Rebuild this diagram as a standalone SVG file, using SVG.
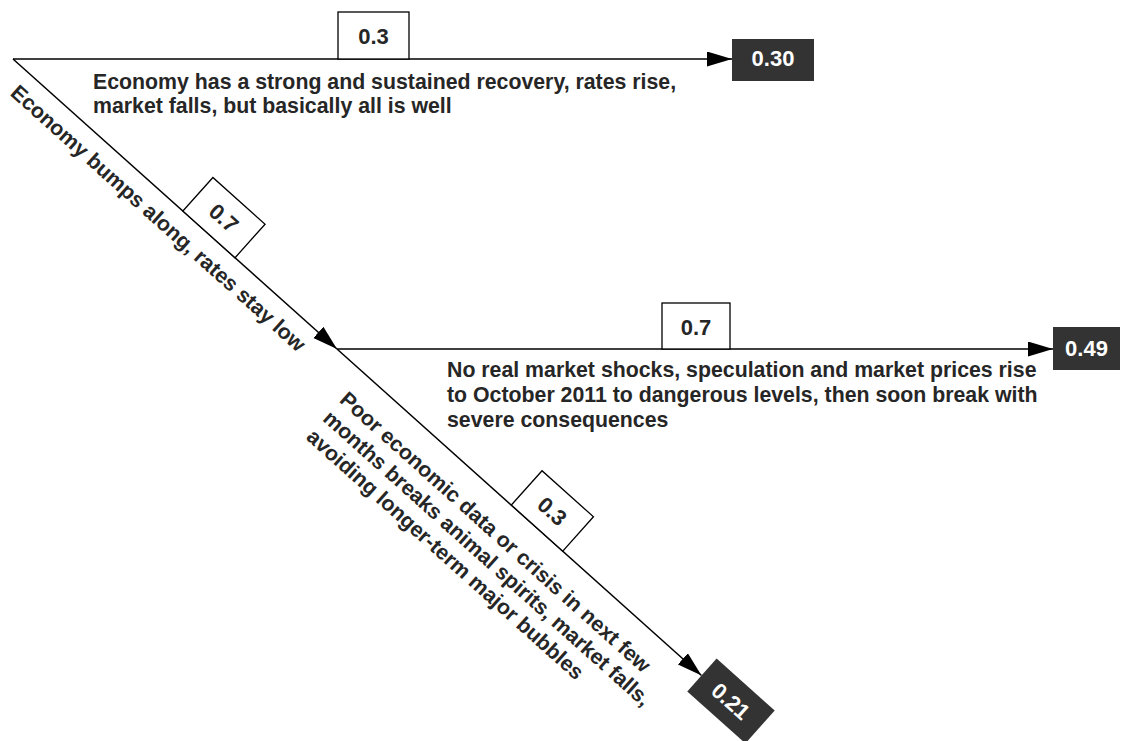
<svg xmlns="http://www.w3.org/2000/svg" width="1123" height="741" viewBox="0 0 1123 741">
<style>
.t{font-family:"Liberation Sans",Arial,sans-serif;font-weight:bold;font-size:21.3px;fill:#262626}
.lb{fill:#fff;stroke:#000;stroke-width:1.3}
.lt{font-family:"Liberation Sans",Arial,sans-serif;font-weight:bold;font-size:22px;fill:#262626;text-anchor:middle}
.ob{fill:#333333}
.ot{font-family:"Liberation Sans",Arial,sans-serif;font-weight:bold;font-size:22px;fill:#ffffff;text-anchor:middle}
.ln{stroke:#000;stroke-width:1.5;fill:none;marker-end:url(#ah)}
</style>
<defs>
<marker id="ah" markerUnits="userSpaceOnUse" markerWidth="26" markerHeight="16" refX="25" refY="7.5" orient="auto">
<path d="M0,0 L25,7.5 L0,15 z" fill="#000"/>
</marker>
</defs>
<rect width="1123" height="741" fill="#fff"/>
<g id="connectors">
<line class="ln" x1="13" y1="59" x2="732" y2="59"/>
<line class="ln" x1="13" y1="59" x2="337" y2="349"/>
<line class="ln" x1="337" y1="349" x2="1053" y2="349"/>
<line class="ln" x1="337" y1="349" x2="701.5" y2="675.5"/>
</g>
<g id="label-top">
<rect class="lb" x="338" y="12" width="71" height="47"/>
<text class="lt" x="373.5" y="43.5">0.3</text>
<text class="t" x="93" y="89">Economy has a strong and sustained recovery, rates rise,</text>
<text class="t" x="93" y="113">market falls, but basically all is well</text>
</g>
<g id="label-diag1" transform="translate(13,59) rotate(41.83)">
<rect class="lb" x="228" y="-45" width="70" height="45"/>
<text class="lt" x="263" y="-14.5">0.7</text>
<text class="t" x="21" y="29">Economy bumps along, rates stay low</text>
</g>
<g id="label-mid">
<rect class="lb" x="662" y="303" width="68" height="46"/>
<text class="lt" x="696" y="334.5">0.7</text>
<text class="t" x="447" y="377">No real market shocks, speculation and market prices rise</text>
<text class="t" x="447" y="402">to October 2011 to dangerous levels, then soon break with</text>
<text class="t" x="447" y="427">severe consequences</text>
</g>
<g id="label-diag2" transform="translate(337,349) rotate(41.83)">
<rect class="lb" x="234" y="-46" width="69" height="46"/>
<text class="lt" x="268.5" y="-15">0.3</text>
<text class="t" x="36" y="38">Poor economic data or crisis in next few</text>
<text class="t" x="36" y="63">months breaks animal spirits, market falls,</text>
<text class="t" x="36" y="88">avoiding longer-term major bubbles</text>
</g>
<g id="outcome-030">
<rect class="ob" x="732" y="39" width="82" height="42"/>
<text class="ot" x="773" y="66">0.30</text>
</g>
<g id="outcome-049">
<rect class="ob" x="1053" y="327" width="67" height="43"/>
<text class="ot" x="1086.5" y="356">0.49</text>
</g>
<g id="outcome-021" transform="translate(731,701) rotate(41.83)">
<rect class="ob" x="-39" y="-22" width="78" height="44"/>
<text class="ot" x="0" y="8">0.21</text>
</g>
</svg>
